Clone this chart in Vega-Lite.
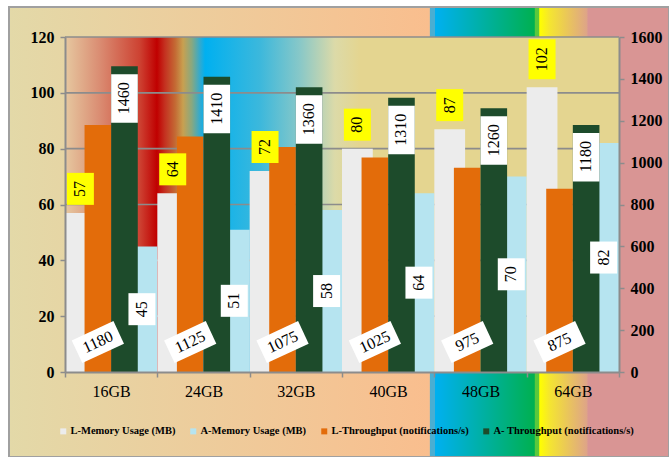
{
  "$schema": "https://vega.github.io/schema/vega-lite/v6.json",
  "width": 660,
  "height": 450,
  "autosize": {"type": "none"},
  "padding": {"left": 9, "top": 7, "right": 0, "bottom": 0},
  "background": "#ffffff",
  "config": {"view": {"stroke": null}},
  "data": {"values": [
    {"cat": "16GB", "series": "L-Memory Usage (MB)", "value": 57},
    {"cat": "16GB", "series": "A-Memory Usage (MB)", "value": 45},
    {"cat": "16GB", "series": "L-Throughput (notifications/s)", "value": 1180},
    {"cat": "16GB", "series": "A- Throughput (notifications/s)", "value": 1460},
    {"cat": "24GB", "series": "L-Memory Usage (MB)", "value": 64},
    {"cat": "24GB", "series": "A-Memory Usage (MB)", "value": 51},
    {"cat": "24GB", "series": "L-Throughput (notifications/s)", "value": 1125},
    {"cat": "24GB", "series": "A- Throughput (notifications/s)", "value": 1410},
    {"cat": "32GB", "series": "L-Memory Usage (MB)", "value": 72},
    {"cat": "32GB", "series": "A-Memory Usage (MB)", "value": 58},
    {"cat": "32GB", "series": "L-Throughput (notifications/s)", "value": 1075},
    {"cat": "32GB", "series": "A- Throughput (notifications/s)", "value": 1360},
    {"cat": "40GB", "series": "L-Memory Usage (MB)", "value": 80},
    {"cat": "40GB", "series": "A-Memory Usage (MB)", "value": 64},
    {"cat": "40GB", "series": "L-Throughput (notifications/s)", "value": 1025},
    {"cat": "40GB", "series": "A- Throughput (notifications/s)", "value": 1310},
    {"cat": "48GB", "series": "L-Memory Usage (MB)", "value": 87},
    {"cat": "48GB", "series": "A-Memory Usage (MB)", "value": 70},
    {"cat": "48GB", "series": "L-Throughput (notifications/s)", "value": 975},
    {"cat": "48GB", "series": "A- Throughput (notifications/s)", "value": 1260},
    {"cat": "64GB", "series": "L-Memory Usage (MB)", "value": 102},
    {"cat": "64GB", "series": "A-Memory Usage (MB)", "value": 82},
    {"cat": "64GB", "series": "L-Throughput (notifications/s)", "value": 875},
    {"cat": "64GB", "series": "A- Throughput (notifications/s)", "value": 1180}
  ]},
  "encoding": {
    "x": {
      "field": "cat", "type": "nominal",
      "scale": {"type": "band", "domain": ["16GB", "24GB", "32GB", "40GB", "48GB", "64GB"], "range": [56, 610], "paddingInner": 0, "paddingOuter": 0},
      "axis": {"title": null, "orient": "bottom", "offset": -85, "tickBand": "extent", "grid": false, "zindex": 1,
               "domainColor": "#8c8c8c", "domainWidth": 2, "tickColor": "#8c8c8c", "tickWidth": 1.5, "tickSize": 5,
               "labelFont": "Liberation Serif", "labelFontSize": 16, "labelColor": "#000000", "labelPadding": 6, "labelAngle": 0}
    }
  },
  "resolve": {"scale": {"y": "independent", "xOffset": "independent"}, "axis": {"y": "independent"}},
  "layer": [
    {
      "data": {"values": [{}]},
      "mark": {"type": "rect", "stroke": "#a0a0a0", "strokeWidth": 2,
        "fill": {"gradient": "linear", "x1": 0, "x2": 1, "y1": 0, "y2": 0, "stops": [
          {"offset": 0, "color": "#e3d9a8"},
          {"offset": 0.637, "color": "#f9be8e"},
          {"offset": 0.638, "color": "#4aaed2"},
          {"offset": 0.645, "color": "#4aaed2"},
          {"offset": 0.646, "color": "#00b0f0"},
          {"offset": 0.796, "color": "#00b050"},
          {"offset": 0.797, "color": "#5cc83c"},
          {"offset": 0.803, "color": "#5cc83c"},
          {"offset": 0.804, "color": "#ffff00"},
          {"offset": 0.82, "color": "#f4e432"},
          {"offset": 0.876, "color": "#dea488"},
          {"offset": 0.877, "color": "#d99594"},
          {"offset": 1, "color": "#d99594"}]}},
      "encoding": {"x": {"value": 0}, "x2": {"value": "width"}, "y": {"value": 0}, "y2": {"value": "height"}}
    },
    {
      "data": {"values": [{}]},
      "mark": {"type": "rect",
        "fill": {"gradient": "linear", "x1": 0, "x2": 1, "y1": 0, "y2": 0, "stops": [
          {"offset": 0, "color": "#e6c8a0"},
          {"offset": 0.063, "color": "#da8c72"},
          {"offset": 0.135, "color": "#cd4232"},
          {"offset": 0.166, "color": "#c00000"},
          {"offset": 0.18, "color": "#c43020"},
          {"offset": 0.199, "color": "#c46a34"},
          {"offset": 0.213, "color": "#c8a050"},
          {"offset": 0.229, "color": "#88a880"},
          {"offset": 0.244, "color": "#30aad0"},
          {"offset": 0.253, "color": "#00b0f0"},
          {"offset": 0.352, "color": "#3cb8dc"},
          {"offset": 0.424, "color": "#88c8c8"},
          {"offset": 0.487, "color": "#dcdaa8"},
          {"offset": 0.532, "color": "#e4d590"},
          {"offset": 1, "color": "#e4d590"}]}},
      "encoding": {
        "x": {"datum": "16GB", "type": "nominal", "bandPosition": 0},
        "x2": {"datum": "64GB", "bandPosition": 1},
        "y": {"datum": 0, "type": "quantitative", "scale": {"domain": [0, 120], "range": [365, 30]}, "axis": null},
        "y2": {"datum": 120}
      }
    },
    {
      "data": {"values": [{"g": 20}, {"g": 40}, {"g": 60}, {"g": 80}, {"g": 100}, {"g": 120}]},
      "mark": {"type": "rule", "color": "#8c8c8c", "strokeWidth": 1.6},
      "encoding": {
        "x": {"datum": "16GB", "type": "nominal", "bandPosition": 0},
        "x2": {"datum": "64GB", "bandPosition": 1},
        "y": {"field": "g", "type": "quantitative", "scale": {"domain": [0, 120], "range": [365, 30]}, "axis": null}
      }
    },
    {
      "transform": [{"filter": {"field": "series", "oneOf": ["L-Memory Usage (MB)", "A-Memory Usage (MB)"]}}],
      "mark": {"type": "bar", "opacity": 1},
      "encoding": {
        "xOffset": {"field": "series", "type": "nominal", "scale": {"type": "band", "domain": ["L-Memory Usage (MB)", "_gap", "A-Memory Usage (MB)"], "paddingInner": 0, "paddingOuter": 0}},
        "y": {"field": "value", "type": "quantitative", "scale": {"domain": [0, 120], "range": [365, 30]},
              "axis": {"title": null, "orient": "left", "offset": -56, "values": [0, 20, 40, 60, 80, 100, 120], "grid": false, "zindex": 1,
                       "domainColor": "#8c8c8c", "domainWidth": 2, "tickColor": "#8c8c8c", "tickWidth": 1.5, "tickSize": 5,
                       "labelFont": "Liberation Serif", "labelFontWeight": "bold", "labelFontSize": 16, "labelColor": "#000000", "labelPadding": 6}},
        "color": {"field": "series", "type": "nominal",
          "scale": {"domain": ["L-Memory Usage (MB)", "A-Memory Usage (MB)", "L-Throughput (notifications/s)", "A- Throughput (notifications/s)"],
                    "range": ["#ececec", "#b6e4f0", "#e36c0a", "#1d4b2b"]},
          "legend": {"title": null, "orient": "none", "legendX": 49, "legendY": 419, "direction": "horizontal", "columns": 4,
                     "symbolType": "square", "symbolSize": 36, "symbolStrokeWidth": 0, "padding": 0,
                     "labelFont": "Liberation Serif", "labelFontWeight": "bold", "labelFontSize": 10.5, "labelColor": "#000000",
                     "labelOffset": 2, "columnPadding": 12, "labelLimit": 300}}
      }
    },
    {
      "transform": [{"filter": {"field": "series", "oneOf": ["L-Throughput (notifications/s)", "A- Throughput (notifications/s)"]}}],
      "mark": {"type": "bar", "opacity": 1},
      "encoding": {
        "xOffset": {"field": "series", "type": "nominal", "scale": {"type": "band", "domain": ["L-Throughput (notifications/s)", "A- Throughput (notifications/s)"], "paddingInner": 0, "paddingOuter": 0.735}},
        "y": {"field": "value", "type": "quantitative", "scale": {"domain": [0, 1600], "range": [365, 30]},
              "axis": {"title": null, "orient": "right", "offset": -50, "values": [0, 200, 400, 600, 800, 1000, 1200, 1400, 1600], "grid": false, "zindex": 1,
                       "domainColor": "#8c8c8c", "domainWidth": 2, "tickColor": "#8c8c8c", "tickWidth": 1.5, "tickSize": 5, "format": "d",
                       "labelFont": "Liberation Serif", "labelFontWeight": "bold", "labelFontSize": 16, "labelColor": "#000000", "labelPadding": 6}},
        "color": {"field": "series", "type": "nominal",
          "scale": {"domain": ["L-Memory Usage (MB)", "A-Memory Usage (MB)", "L-Throughput (notifications/s)", "A- Throughput (notifications/s)"],
                    "range": ["#ececec", "#b6e4f0", "#e36c0a", "#1d4b2b"]},
          "legend": {"title": null, "orient": "none", "legendX": 49, "legendY": 419, "direction": "horizontal", "columns": 4,
                     "symbolType": "square", "symbolSize": 36, "symbolStrokeWidth": 0, "padding": 0,
                     "labelFont": "Liberation Serif", "labelFontWeight": "bold", "labelFontSize": 10.5, "labelColor": "#000000",
                     "labelOffset": 2, "columnPadding": 12, "labelLimit": 300}}
      }
    },
    {
      "transform": [{"filter": {"field": "series", "equal": "L-Memory Usage (MB)"}}],
      "mark": {"type": "point", "filled": true, "color": "#ffff00", "opacity": 1, "size": 400, "strokeWidth": 0},
      "encoding": {
        "xOffset": {"field": "series", "type": "nominal", "scale": {"type": "band", "domain": ["L-Memory Usage (MB)", "_gap", "A-Memory Usage (MB)"], "paddingInner": 0, "paddingOuter": 0}},
        "y": {"field": "value", "type": "quantitative", "scale": {"domain": [0, 120], "range": [365, 30]}, "axis": null},
        "shape": {"condition": {"test": "datum.value >= 100", "value": "M-1.35,-0.8L1.35,-0.8L1.35,-4.8L-1.35,-4.8Z"}, "value": "M-1.35,-0.8L1.35,-0.8L1.35,-4L-1.35,-4Z"}
      }
    },
    {
      "transform": [{"filter": {"field": "series", "equal": "L-Memory Usage (MB)"}}],
      "mark": {"type": "text", "angle": 270, "align": "left", "baseline": "middle", "dx": 16, "font": "Liberation Serif", "fontSize": 16, "color": "#000000"},
      "encoding": {
        "xOffset": {"field": "series", "type": "nominal", "scale": {"type": "band", "domain": ["L-Memory Usage (MB)", "_gap", "A-Memory Usage (MB)"], "paddingInner": 0, "paddingOuter": 0}},
        "y": {"field": "value", "type": "quantitative", "scale": {"domain": [0, 120], "range": [365, 30]}, "axis": null},
        "text": {"field": "value", "type": "nominal"}
      }
    },
    {
      "transform": [{"filter": {"field": "series", "equal": "A-Memory Usage (MB)"}}],
      "mark": {"type": "point", "filled": true, "color": "#ffffff", "opacity": 1, "size": 400, "strokeWidth": 0, "shape": "M-1.35,-1.6L1.35,-1.6L1.35,1.6L-1.35,1.6Z"},
      "encoding": {
        "xOffset": {"field": "series", "type": "nominal", "scale": {"type": "band", "domain": ["L-Memory Usage (MB)", "_gap", "A-Memory Usage (MB)"], "paddingInner": 0, "paddingOuter": 0}},
        "y": {"field": "value", "type": "quantitative", "scale": {"domain": [0, 240], "range": [365, 30]}, "axis": null}
      }
    },
    {
      "transform": [{"filter": {"field": "series", "equal": "A-Memory Usage (MB)"}}],
      "mark": {"type": "text", "angle": 270, "align": "center", "baseline": "middle", "font": "Liberation Serif", "fontSize": 16, "color": "#000000"},
      "encoding": {
        "xOffset": {"field": "series", "type": "nominal", "scale": {"type": "band", "domain": ["L-Memory Usage (MB)", "_gap", "A-Memory Usage (MB)"], "paddingInner": 0, "paddingOuter": 0}},
        "y": {"field": "value", "type": "quantitative", "scale": {"domain": [0, 240], "range": [365, 30]}, "axis": null},
        "text": {"field": "value", "type": "nominal"}
      }
    },
    {
      "transform": [{"filter": {"field": "series", "equal": "A- Throughput (notifications/s)"}}],
      "mark": {"type": "point", "filled": true, "color": "#ffffff", "opacity": 1, "size": 400, "strokeWidth": 0, "shape": "M-1.33,0.8L1.33,0.8L1.33,5.65L-1.33,5.65Z"},
      "encoding": {
        "xOffset": {"field": "series", "type": "nominal", "scale": {"type": "band", "domain": ["L-Throughput (notifications/s)", "A- Throughput (notifications/s)"], "paddingInner": 0, "paddingOuter": 0.735}},
        "y": {"field": "value", "type": "quantitative", "scale": {"domain": [0, 1600], "range": [365, 30]}, "axis": null}
      }
    },
    {
      "transform": [{"filter": {"field": "series", "equal": "A- Throughput (notifications/s)"}}],
      "mark": {"type": "text", "angle": 270, "align": "right", "baseline": "middle", "dx": -16, "font": "Liberation Serif", "fontSize": 16, "color": "#000000"},
      "encoding": {
        "xOffset": {"field": "series", "type": "nominal", "scale": {"type": "band", "domain": ["L-Throughput (notifications/s)", "A- Throughput (notifications/s)"], "paddingInner": 0, "paddingOuter": 0.735}},
        "y": {"field": "value", "type": "quantitative", "scale": {"domain": [0, 1600], "range": [365, 30]}, "axis": null},
        "text": {"field": "value", "type": "nominal"}
      }
    },
    {
      "transform": [{"filter": {"field": "series", "equal": "L-Throughput (notifications/s)"}}],
      "mark": {"type": "point", "filled": true, "color": "#ffffff", "opacity": 1, "size": 400, "strokeWidth": 0, "angle": 335, "shape": "M-2.3,-1.25L2.3,-1.25L2.3,1.25L-2.3,1.25Z"},
      "encoding": {
        "xOffset": {"field": "series", "type": "nominal", "scale": {"type": "band", "domain": ["L-Throughput (notifications/s)", "A- Throughput (notifications/s)"], "paddingInner": 0, "paddingOuter": 0.735}},
        "y": {"datum": 143, "type": "quantitative", "scale": {"domain": [0, 1600], "range": [365, 30]}, "axis": null}
      }
    },
    {
      "transform": [{"filter": {"field": "series", "equal": "L-Throughput (notifications/s)"}}],
      "mark": {"type": "text", "angle": 335, "align": "center", "baseline": "middle", "font": "Liberation Serif", "fontSize": 16, "color": "#000000"},
      "encoding": {
        "xOffset": {"field": "series", "type": "nominal", "scale": {"type": "band", "domain": ["L-Throughput (notifications/s)", "A- Throughput (notifications/s)"], "paddingInner": 0, "paddingOuter": 0.735}},
        "y": {"datum": 143, "type": "quantitative", "scale": {"domain": [0, 1600], "range": [365, 30]}, "axis": null},
        "text": {"field": "value", "type": "nominal"}
      }
    }
  ]
}
